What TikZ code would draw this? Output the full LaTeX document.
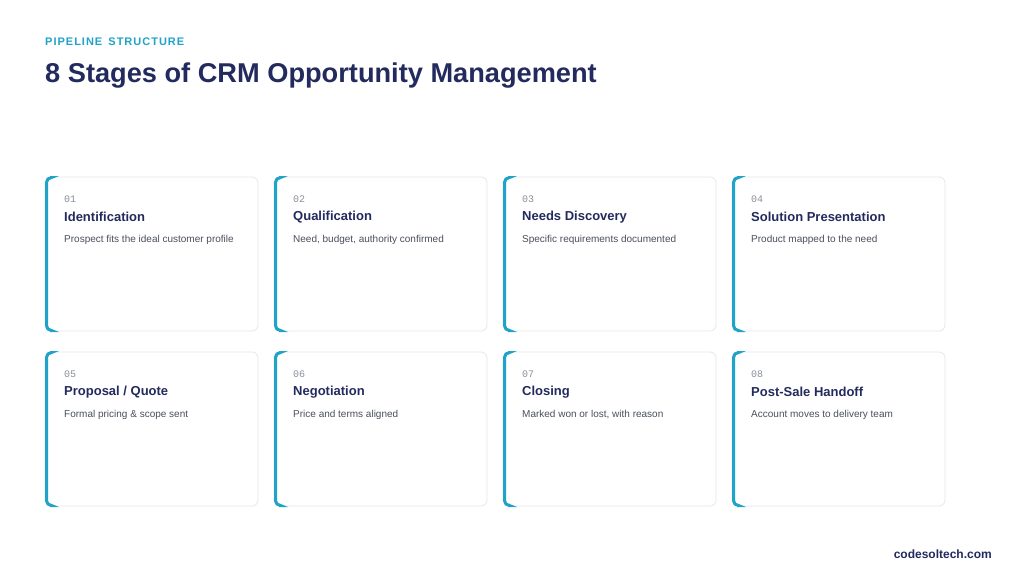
\documentclass[tikz,border=0pt]{standalone}
\usepackage{fontspec}
\setmainfont{Liberation Sans}
\setmonofont{Liberation Mono}
\usepackage{xcolor}
\definecolor{navy}{HTML}{232B5E}
\definecolor{teal}{HTML}{1FA3C9}
\definecolor{grey}{HTML}{4A4F5C}
\definecolor{numgrey}{HTML}{8A8F99}
\definecolor{edge}{HTML}{E4E7EC}
\tikzset{
    card/.style = {draw=edge, fill=white, rounded corners=6pt, line width=0.8pt},
    accent/.style = {draw=teal, line width=3pt, rounded corners=5pt},
    num/.style = {anchor=west, inner sep=0pt, font=\ttfamily\fontsize{10}{12}\selectfont, text=numgrey},
    stitle/.style = {anchor=west, inner sep=0pt, font=\bfseries\fontsize{13}{15}\selectfont, text=navy},
    desc/.style = {anchor=west, inner sep=0pt, font=\fontsize{10}{12}\selectfont, text=grey}
}
\begin{document}
\begin{tikzpicture}[x=1pt, y=-1pt]
    \useasboundingbox[fill=white] (0,0) rectangle (1024,584);

    % header
    \node (kicker) [anchor=west, inner sep=0pt, text=teal, font=\bfseries\fontsize{11}{13}\selectfont] at (45,42) {P\kern1pt I\kern1pt P\kern1pt E\kern1pt L\kern1pt I\kern1pt N\kern1pt E\ \ S\kern1pt T\kern1pt R\kern1pt U\kern1pt C\kern1pt T\kern1pt U\kern1pt R\kern1pt E};
    \node (title) [anchor=west, inner sep=0pt, text=navy, font=\bfseries\fontsize{27.2}{31}\selectfont] at (45,76) {8 Stages of CRM Opportunity Management};

    % stage cards
    \foreach \n/\col/\row/\name/\text in {
        01/0/0/Identification/Prospect fits the ideal customer profile,
        02/1/0/Qualification/{Need, budget, authority confirmed},
        03/2/0/Needs Discovery/Specific requirements documented,
        04/3/0/Solution Presentation/Product mapped to the need,
        05/0/1/{Proposal / Quote}/Formal pricing \& scope sent,
        06/1/1/Negotiation/Price and terms aligned,
        07/2/1/Closing/{Marked won or lost, with reason},
        08/3/1/Post-Sale Handoff/Account moves to delivery team}{
        \pgfmathsetmacro{\x}{45+229*\col}
        \pgfmathsetmacro{\y}{177+175*\row}
        \draw[card] (\x,\y) rectangle ++(213,154);
        \draw[accent] (\x+5,\y+0.5) -- (\x+1.5,\y+0.5) -- (\x+1.5,\y+153.5) -- (\x+5,\y+153.5);
        \node (num\n) [num] at (\x+19,\y+22) {\n};
        \node (name\n) [stitle] at (\x+19,\y+40) {\name};
        \node (desc\n) [desc] at (\x+19,\y+62.5) {\text};
    }

    % footer
    \node (site) [anchor=east, inner sep=0pt, text=navy, font=\bfseries\fontsize{12}{14}\selectfont] at (992,554) {codesoltech.com};
\end{tikzpicture}
\end{document}
